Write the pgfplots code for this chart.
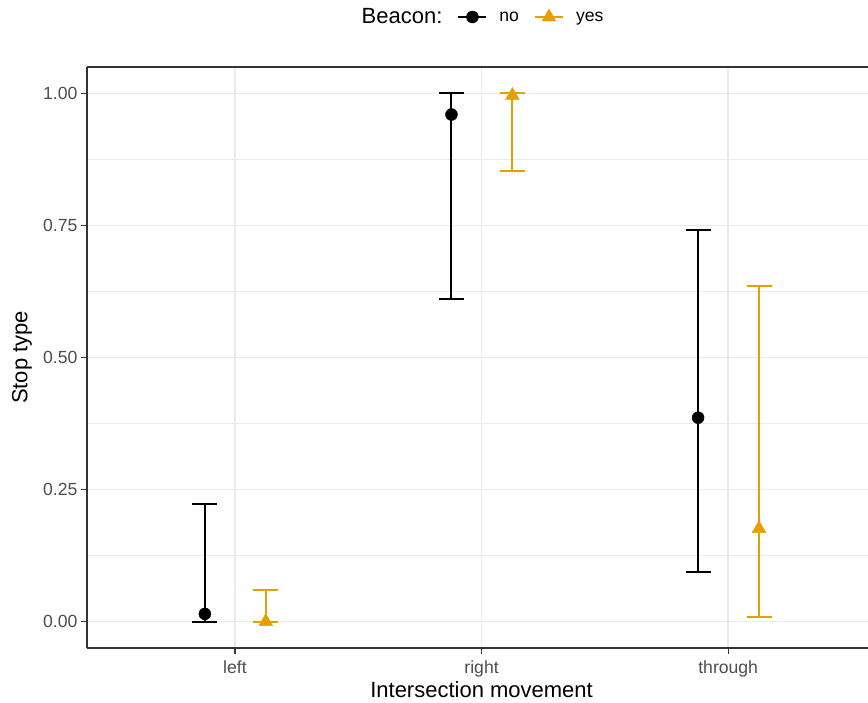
\documentclass[border=0pt]{standalone}
\usepackage{fontspec}
\setmainfont{Liberation Sans}
\usepackage{pgfplots}
\pgfplotsset{compat=1.18}
\definecolor{gridc}{HTML}{EBEBEB}
\definecolor{bord}{HTML}{333333}
\definecolor{tickc}{HTML}{4D4D4D}
\definecolor{orng}{HTML}{E69F00}
\begin{document}
\begin{tikzpicture}
\begin{axis}[
  at={(0,0)}, anchor=south west,
  scale only axis, width=781pt, height=581pt,
  xmin=0.4, xmax=3.567, ymin=-0.05, ymax=1.05,
  axis x line*=box, axis y line*=left,
  axis line style={bord, line width=1.2pt},
  xtick={1,2,3}, xticklabels={left,right,through},
  ytick={0,0.25,0.5,0.75,1},
  minor ytick={0.125,0.375,0.625,0.875},
  yticklabel style={/pgf/number format/.cd, fixed, fixed zerofill, precision=2, assume math mode=true},
  xticklabel style={yshift=-3pt},
  tick align=outside, major tick length=6pt, minor tick length=0pt,
  tick style={bord, line width=1.2pt},
  xtick pos=left, ytick pos=left,
  grid=both,
  major grid style={gridc, line width=1.5pt},
  minor grid style={gridc, line width=0.8pt},
  ticklabel style={font=\fontsize{17.6}{20}\selectfont, text=tickc},
  xlabel={Intersection movement}, ylabel={Stop type},
  label style={font=\fontsize{22}{26}\selectfont, text=black},
  xlabel style={at={(axis description cs:0.5052,-0.0723)}, anchor=center},
  ylabel style={at={(axis description cs:-0.0832,0.5)}, anchor=center},
  legend columns=3,
  legend style={draw=none, fill=none, at={(axis description cs:0.5001,1.086)}, anchor=center,
    font=\fontsize{17.6}{20}\selectfont, text=black,
    /tikz/every odd column/.append style={column sep=10pt},
    /tikz/every even column/.append style={column sep=13pt}},
  legend image code/.code={\draw[line width=2pt,#1] (0pt,0pt) -- (28pt,0pt); \draw[#1] plot coordinates {(14pt,0pt)};},
]
\addlegendimage{empty legend}
\addlegendentry{\fontsize{22}{26}\selectfont Beacon:}
\addplot[only marks, black, mark=*, mark size=6pt, mark options={fill=black, line width=0.4pt},
  error bars/.cd, y dir=both, y explicit, error mark=|,
  error bar style={line width=2pt, black},
  error mark options={line width=2pt, mark size=12.5pt, black}]
  coordinates {
  (0.878,0.0146) += (0,0.2084) -= (0,0.0146)
  (1.878,0.960) += (0,0.040) -= (0,0.349)
  (2.878,0.386) += (0,0.355) -= (0,0.2915)
  };
\addlegendentry{no}
\addplot[only marks, orng, mark=triangle*, mark size=8pt, mark options={fill=orng, line width=0.4pt},
  error bars/.cd, y dir=both, y explicit, error mark=|,
  error bar style={line width=2pt, orng},
  error mark options={line width=2pt, mark size=12.5pt, orng}]
  coordinates {
  (1.125,0.0) += (0,0.0605) -= (0,0.0)
  (2.125,0.996) += (0,0.004) -= (0,0.142)
  (3.125,0.176) += (0,0.459) -= (0,0.1665)
  };
\addlegendentry{yes}
\end{axis}
\pgfresetboundingbox
\path[use as bounding box] (-87pt,-54pt) rectangle (781pt,648pt);
\end{tikzpicture}
\end{document}
